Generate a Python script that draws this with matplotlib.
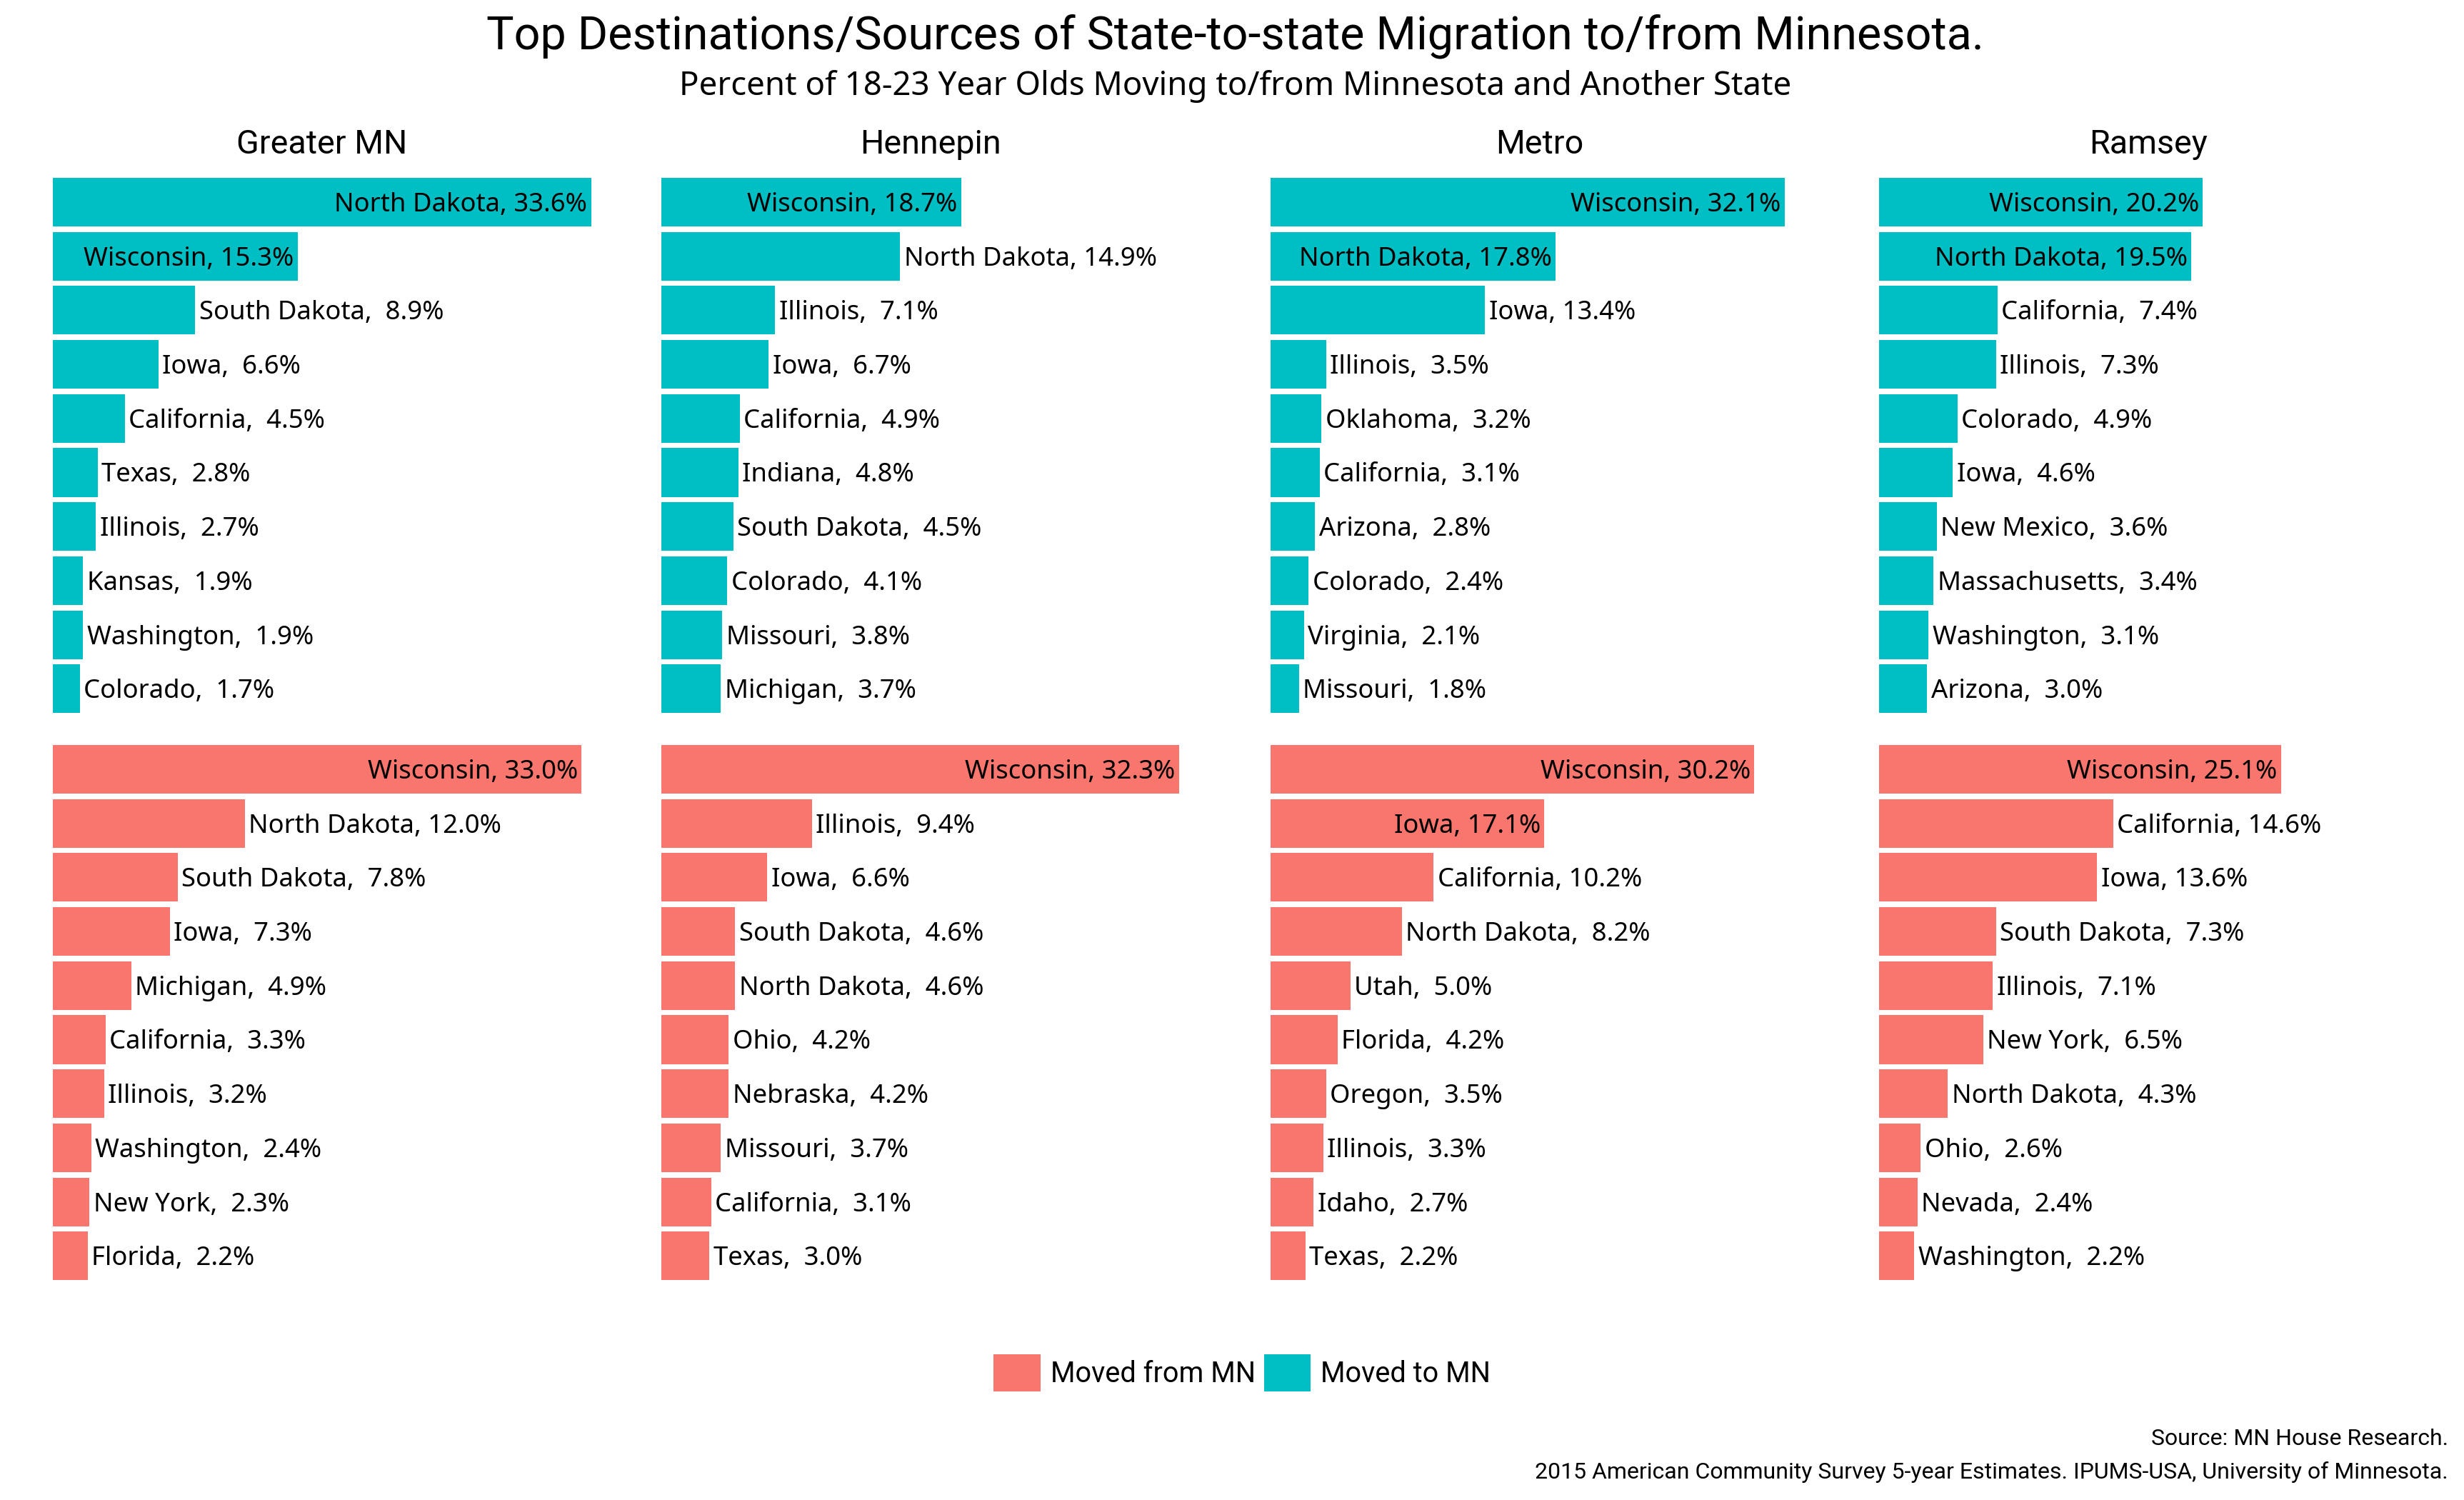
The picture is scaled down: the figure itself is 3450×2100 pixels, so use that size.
import matplotlib
matplotlib.use("Agg")
import matplotlib.pyplot as plt
from matplotlib.patches import Patch

# ---------------- data ----------------
regions = ["Greater MN", "Hennepin", "Metro", "Ramsey"]

to_states_greater = ["North Dakota", "Wisconsin", "South Dakota", "Iowa", "California",
                     "Texas", "Illinois", "Kansas", "Washington", "Colorado"]
to_values_greater = [33.6, 15.3, 8.9, 6.6, 4.5, 2.8, 2.7, 1.9, 1.9, 1.7]

to_states_hennepin = ["Wisconsin", "North Dakota", "Illinois", "Iowa", "California",
                      "Indiana", "South Dakota", "Colorado", "Missouri", "Michigan"]
to_values_hennepin = [18.7, 14.9, 7.1, 6.7, 4.9, 4.8, 4.5, 4.1, 3.8, 3.7]

to_states_metro = ["Wisconsin", "North Dakota", "Iowa", "Illinois", "Oklahoma",
                   "California", "Arizona", "Colorado", "Virginia", "Missouri"]
to_values_metro = [32.1, 17.8, 13.4, 3.5, 3.2, 3.1, 2.8, 2.4, 2.1, 1.8]

to_states_ramsey = ["Wisconsin", "North Dakota", "California", "Illinois", "Colorado",
                    "Iowa", "New Mexico", "Massachusetts", "Washington", "Arizona"]
to_values_ramsey = [20.2, 19.5, 7.4, 7.3, 4.9, 4.6, 3.6, 3.4, 3.1, 3.0]

from_states_greater = ["Wisconsin", "North Dakota", "South Dakota", "Iowa", "Michigan",
                       "California", "Illinois", "Washington", "New York", "Florida"]
from_values_greater = [33.0, 12.0, 7.8, 7.3, 4.9, 3.3, 3.2, 2.4, 2.3, 2.2]

from_states_hennepin = ["Wisconsin", "Illinois", "Iowa", "South Dakota", "North Dakota",
                        "Ohio", "Nebraska", "Missouri", "California", "Texas"]
from_values_hennepin = [32.3, 9.4, 6.6, 4.6, 4.6, 4.2, 4.2, 3.7, 3.1, 3.0]

from_states_metro = ["Wisconsin", "Iowa", "California", "North Dakota", "Utah",
                     "Florida", "Oregon", "Illinois", "Idaho", "Texas"]
from_values_metro = [30.2, 17.1, 10.2, 8.2, 5.0, 4.2, 3.5, 3.3, 2.7, 2.2]

from_states_ramsey = ["Wisconsin", "California", "Iowa", "South Dakota", "Illinois",
                      "New York", "North Dakota", "Ohio", "Nevada", "Washington"]
from_values_ramsey = [25.1, 14.6, 13.6, 7.3, 7.1, 6.5, 4.3, 2.6, 2.4, 2.2]

legend_labels = ["Moved from MN", "Moved to MN"]
title = "Top Destinations/Sources of State-to-state Migration to/from Minnesota."
subtitle = "Percent of 18-23 Year Olds Moving to/from Minnesota and Another State"
source1 = "Source: MN House Research."
source2 = "2015 American Community Survey 5-year Estimates. IPUMS-USA, University of Minnesota."

# ---------------- style ----------------
COL_FROM = "#F8766D"
COL_TO = "#00BFC4"
LABEL_FONT = ["Noto Sans", "DejaVu Sans"]
HEAD_FONT = ["Roboto", "DejaVu Sans"]

W, H = 3450, 2100
fig = plt.figure(figsize=(W / 300, H / 300), dpi=300)

to_rows = [(to_states_greater, to_values_greater), (to_states_hennepin, to_values_hennepin),
           (to_states_metro, to_values_metro), (to_states_ramsey, to_values_ramsey)]
from_rows = [(from_states_greater, from_values_greater), (from_states_hennepin, from_values_hennepin),
             (from_states_metro, from_values_metro), (from_states_ramsey, from_values_ramsey)]

all_vals = [v for _, vals in to_rows + from_rows for v in vals]
xmax = max(all_vals)
xpad = 0.05 * xmax

panel_left0 = 36
panel_w = 829.4
panel_gap = 23
row_tops = [237.6, 1031.6]
panel_h = 772.1


def px_axes(left, top, w, h):
    return fig.add_axes([left / W, 1 - (top + h) / H, w / W, h / H])


for r, (rows, color) in enumerate([(to_rows, COL_TO), (from_rows, COL_FROM)]):
    for c, (states, vals) in enumerate(rows):
        left = panel_left0 + c * (panel_w + panel_gap)
        ax = px_axes(left, row_tops[r], panel_w, panel_h)
        pos = list(range(len(vals)))
        ax.barh(pos, vals, height=0.9, color=color, linewidth=0)
        ax.set_xlim(-xpad, xmax + xpad)
        ax.set_ylim(len(vals) - 0.4, -0.6)
        ax.axis("off")
        for i, (s, v) in enumerate(zip(states, vals)):
            lab = f"{s}, {v:4.1f}%"
            if v > 15:
                ax.annotate(lab, (v, i), xytext=(-1.3, -3.1), textcoords="offset points",
                            ha="right", va="baseline", fontsize=8.75, family=LABEL_FONT)
            else:
                ax.annotate(lab, (v, i), xytext=(1.3, -3.1), textcoords="offset points",
                            ha="left", va="baseline", fontsize=8.75, family=LABEL_FONT)
        if r == 0:
            ax.set_title(regions[c], pad=5.4, fontsize=11.2, family=HEAD_FONT)

cx = (panel_left0 + panel_left0 + 4 * panel_w + 3 * panel_gap) / 2 / W
fig.text(cx, 1 - 68 / H, title, ha="center", va="baseline", fontsize=15.5, family=HEAD_FONT)
fig.text(cx, 1 - 133 / H, subtitle, ha="center", va="baseline", fontsize=10.95, family=LABEL_FONT)

handles = [Patch(facecolor=COL_FROM, edgecolor="none"), Patch(facecolor=COL_TO, edgecolor="none")]
fig.legend(handles, legend_labels, loc="center", bbox_to_anchor=(1739 / W, 1 - 1922 / H),
           ncol=2, frameon=False, handlelength=1.667, handleheight=1.667,
           handletextpad=0.35, columnspacing=0.3, borderpad=0, borderaxespad=0,
           prop={"family": HEAD_FONT, "size": 9.5})

fig.text(3428 / W, 1 - 2023 / H, source1, ha="right", va="baseline", fontsize=7.7, family=HEAD_FONT)
fig.text(3428 / W, 1 - 2070 / H, source2, ha="right", va="baseline", fontsize=7.7, family=HEAD_FONT)

fig.savefig("out.png", dpi=300, facecolor="white")
